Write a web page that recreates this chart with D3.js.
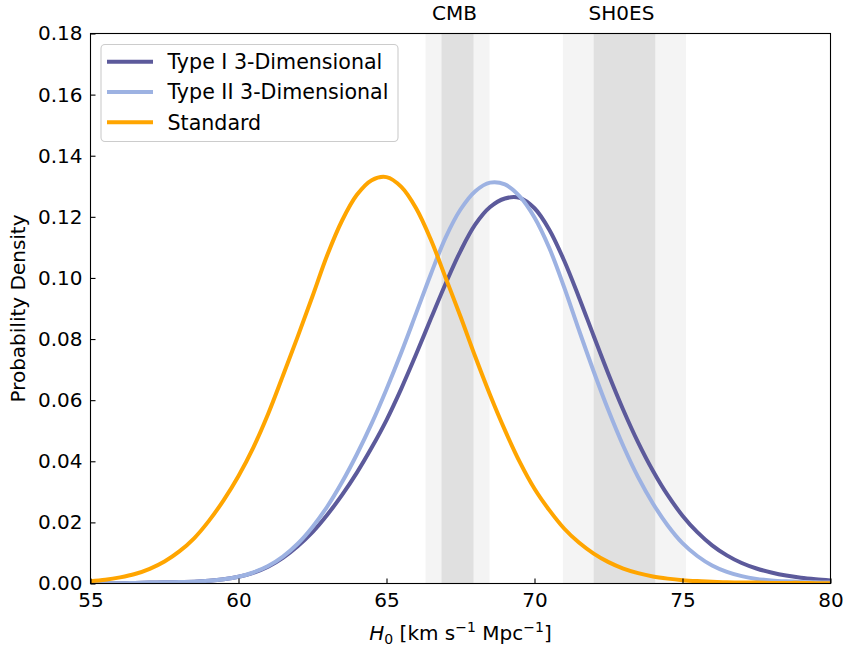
<!DOCTYPE html>
<html>
<head>
<meta charset="utf-8">
<script src="https://cdn.jsdelivr.net/npm/d3@7"></script>
<style>
  html, body { margin: 0; padding: 0; background: #ffffff; }
  svg { display: block; font-family: "DejaVu Sans", sans-serif; }
</style>
</head>
<body>
<svg id="chart" width="844" height="649"></svg>
<script>
// H0 grid (km/s/Mpc) on which the posterior densities are tabulated
const h0Grid = [
  55, 55.5, 56, 56.5, 57, 57.5, 58, 58.5, 59, 59.5,
  60, 60.5, 61, 61.5, 62, 62.5, 63, 63.5, 64, 64.5,
  65, 65.5, 66, 66.5, 67, 67.5, 68, 68.5, 69, 69.5,
  70, 70.5, 71, 71.5, 72, 72.5, 73, 73.5, 74, 74.5,
  75, 75.5, 76, 76.5, 77, 77.5, 78, 78.5, 79, 79.5, 80
];

// Posterior probability density of H0 for each model
const typeI = [
  0.0001, 0.0001, 0.0001, 0.0002, 0.0003, 0.0004, 0.0005, 0.0006, 0.0009, 0.0014,
  0.0022, 0.0035, 0.0055, 0.0084, 0.0122, 0.0168, 0.0225, 0.0290, 0.0363, 0.0445,
  0.0535, 0.0638, 0.0750, 0.0867, 0.0982, 0.1088, 0.1175, 0.1232, 0.1260, 0.1262,
  0.1228, 0.1158, 0.1057, 0.0937, 0.0810, 0.0685, 0.0568, 0.0462, 0.0369, 0.0289,
  0.0222, 0.0168, 0.0125, 0.0092, 0.0067, 0.0049, 0.0036, 0.0026, 0.0019, 0.0014, 0.0010
];
const typeII = [
  0.0001, 0.0001, 0.0001, 0.0002, 0.0003, 0.0004, 0.0005, 0.0006, 0.0009, 0.0014,
  0.0022, 0.0036, 0.0057, 0.0088, 0.0130, 0.0185, 0.0252, 0.0332, 0.0423, 0.0524,
  0.0636, 0.0756, 0.0884, 0.1013, 0.1133, 0.1224, 0.1284, 0.1312, 0.1306, 0.1267,
  0.1198, 0.1098, 0.0970, 0.0830, 0.0694, 0.0566, 0.0450, 0.0348, 0.0262, 0.0190,
  0.0132, 0.0090, 0.0059, 0.0038, 0.0024, 0.0015, 0.0010, 0.0007, 0.0005, 0.0004, 0.0003
];
const standard = [
  0.0007, 0.0012, 0.0020, 0.0031, 0.0048, 0.0072, 0.0105, 0.0148, 0.0205, 0.0273,
  0.0352, 0.0445, 0.0555, 0.0680, 0.0808, 0.0940, 0.1075, 0.1188, 0.1272, 0.1320,
  0.1330, 0.1298, 0.1228, 0.1125, 0.1000, 0.0874, 0.0742, 0.0617, 0.0502, 0.0398,
  0.0310, 0.0240, 0.0180, 0.0134, 0.0098, 0.0070, 0.0049, 0.0034, 0.0023, 0.0016,
  0.0011, 0.0008, 0.0006, 0.0004, 0.0003, 0.0003, 0.0002, 0.0002, 0.0002, 0.0001, 0.0001
];

const seriesNames = ["Type I 3-Dimensional", "Type II 3-Dimensional", "Standard"];
const seriesColors = ["#5c5a9b", "#9db2e2", "#ffa500"];

// External measurements: mean and 1-sigma width
const probeNames = ["CMB", "SH0ES"];
const probeMeans = [67.4, 73.04];
const probeSigmas = [0.54, 1.04];

const xTicks = [55, 60, 65, 70, 75, 80];
const yTicks = [0.00, 0.02, 0.04, 0.06, 0.08, 0.10, 0.12, 0.14, 0.16, 0.18];

// ---- layout ----
const svg = d3.select("#chart");
const plotLeft = 90.5, plotRight = 830.5, plotTop = 33.5, plotBottom = 583.5;
const fontSize = 20;

const x = d3.scaleLinear().domain([55, 80]).range([plotLeft, plotRight]);
const y = d3.scaleLinear().domain([0, 0.18]).range([plotBottom, plotTop]);

// clip to the axes box
svg.append("defs").append("clipPath").attr("id", "plotClip")
  .append("rect").attr("x", plotLeft).attr("y", plotTop)
  .attr("width", plotRight - plotLeft).attr("height", plotBottom - plotTop);

const plot = svg.append("g");

// measurement bands: 2-sigma (lighter) underneath 1-sigma (darker)
const bands = plot.append("g").attr("clip-path", "url(#plotClip)");
probeMeans.forEach((m, i) => {
  const s = probeSigmas[i];
  bands.append("rect")
    .attr("x", x(m - 2 * s)).attr("y", plotTop)
    .attr("width", x(m + 2 * s) - x(m - 2 * s)).attr("height", plotBottom - plotTop)
    .attr("fill", "#f4f4f4");
  bands.append("rect")
    .attr("x", x(m - s)).attr("y", plotTop)
    .attr("width", x(m + s) - x(m - s)).attr("height", plotBottom - plotTop)
    .attr("fill", "#e0e0e0");
});

// probe labels above the axes
probeMeans.forEach((m, i) => {
  svg.append("text")
    .attr("x", x(m) - 3).attr("y", 20)
    .attr("text-anchor", "middle")
    .attr("font-size", fontSize)
    .attr("fill", "#000")
    .text(probeNames[i]);
});

// density curves
const allSeries = [typeI, typeII, standard];
const line = d3.line()
  .x((d, i) => x(h0Grid[i]))
  .y(d => y(d))
  .curve(d3.curveCatmullRom.alpha(0.5));

const curves = plot.append("g").attr("clip-path", "url(#plotClip)");
allSeries.forEach((vals, i) => {
  curves.append("path")
    .datum(vals)
    .attr("d", line)
    .attr("fill", "none")
    .attr("stroke", seriesColors[i])
    .attr("stroke-width", 4)
    .attr("stroke-linejoin", "round")
    .attr("stroke-linecap", "butt");
});

// axes with inward ticks
const xAxis = d3.axisBottom(x).tickValues(xTicks).tickFormat(d3.format("d"))
  .tickSizeInner(-5).tickSizeOuter(0).tickPadding(9);
const yAxis = d3.axisLeft(y).tickValues(yTicks).tickFormat(d3.format(".2f"))
  .tickSizeInner(-5).tickSizeOuter(0).tickPadding(8);

const gx = svg.append("g").attr("transform", `translate(0,${plotBottom})`).call(xAxis);
const gy = svg.append("g").attr("transform", `translate(${plotLeft},0)`).call(yAxis);
[gx, gy].forEach(g => {
  g.select(".domain").remove();
  g.selectAll(".tick line").attr("stroke", "#000").attr("stroke-width", 1.1);
  g.selectAll(".tick text")
    .attr("font-size", fontSize)
    .attr("font-family", "DejaVu Sans, sans-serif")
    .attr("fill", "#000");
});

// axes frame
svg.append("rect")
  .attr("x", plotLeft).attr("y", plotTop)
  .attr("width", plotRight - plotLeft).attr("height", plotBottom - plotTop)
  .attr("fill", "none").attr("stroke", "#000").attr("stroke-width", 1.1);

// axis titles
const xl = svg.append("text")
  .attr("x", (plotLeft + plotRight) / 2).attr("y", 640)
  .attr("text-anchor", "middle")
  .attr("font-size", fontSize)
  .attr("fill", "#000");
xl.append("tspan").attr("font-style", "italic").text("H");
xl.append("tspan").attr("font-size", 14).attr("dy", 4).text("0");
xl.append("tspan").attr("dy", -4).text(" [km s");
xl.append("tspan").attr("font-size", 14).attr("dy", -8).text("\u22121");
xl.append("tspan").attr("dy", 8).text(" Mpc");
xl.append("tspan").attr("font-size", 14).attr("dy", -8).text("\u22121");
xl.append("tspan").attr("dy", 8).text("]");

svg.append("text")
  .attr("transform", `translate(25,${(plotTop + plotBottom) / 2}) rotate(-90)`)
  .attr("text-anchor", "middle")
  .attr("font-size", fontSize)
  .attr("fill", "#000")
  .text("Probability Density");

// legend
const legend = svg.append("g");
legend.append("rect")
  .attr("x", 101).attr("y", 44.5)
  .attr("width", 297).attr("height", 97)
  .attr("rx", 4).attr("ry", 4)
  .attr("fill", "#ffffff").attr("fill-opacity", 0.8)
  .attr("stroke", "#cccccc").attr("stroke-width", 1.1);
seriesNames.forEach((name, i) => {
  const cy = 61.7 + i * 30.3;
  legend.append("line")
    .attr("x1", 107).attr("x2", 153)
    .attr("y1", cy).attr("y2", cy)
    .attr("stroke", seriesColors[i]).attr("stroke-width", 4);
  legend.append("text")
    .attr("x", 167.5).attr("y", cy + 7.2)
    .attr("font-size", 20.6)
    .attr("fill", "#000")
    .text(name);
});
</script>
</body>
</html>
